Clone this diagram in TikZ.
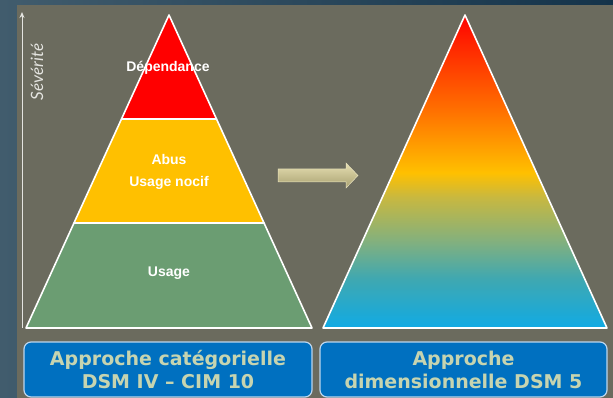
\documentclass[tikz,border=0pt]{standalone}
\usepackage{fontspec}
\setmainfont{Liberation Sans}
\newfontfamily\boxfont{DejaVu Sans}
\newfontfamily\sevfont{Lato}
\usetikzlibrary{calc,arrows.meta}

\definecolor{bgleft}{HTML}{415C6D}
\definecolor{bgright}{HTML}{14334A}
\definecolor{panel}{HTML}{6B6B5E}
\definecolor{bandred}{HTML}{FF0000}
\definecolor{bandyellow}{HTML}{FFC000}
\definecolor{bandgreen}{HTML}{6B9D72}
\definecolor{boxblue}{HTML}{0070C0}
\definecolor{boxedge}{HTML}{BCD6EE}
\definecolor{boxtext}{HTML}{C6D4B0}
\definecolor{arrowtop}{HTML}{E6DFB2}
\definecolor{arrowbot}{HTML}{A8A070}
\definecolor{sevgray}{HTML}{E4E4E0}

% continuous scale from blue (base) to red (apex)
\pgfdeclareverticalshading{severityscale}{100bp}{%
  color(0bp)=(rgb,255:red,16;green,170;blue,228);
  color(25bp)=(rgb,255:red,16;green,170;blue,228);
  color(33bp)=(rgb,255:red,64;green,168;blue,176);
  color(38.6bp)=(rgb,255:red,128;green,176;blue,128);
  color(45.9bp)=(rgb,255:red,200;green,184;blue,64);
  color(49.8bp)=(rgb,255:red,255;green,192;blue,0);
  color(59.8bp)=(rgb,255:red,255;green,112;blue,0);
  color(71bp)=(rgb,255:red,255;green,32;blue,0);
  color(75bp)=(rgb,255:red,255;green,0;blue,0);
  color(100bp)=(rgb,255:red,255;green,0;blue,0)}

\begin{document}
\begin{tikzpicture}[x=1pt,y=-1pt,
    band/.style={draw=white,line width=1.6pt,line join=round},
    lbl/.style={text=white,font=\fontsize{14}{22}\selectfont\bfseries,inner sep=0pt},
    capbox/.style={draw=boxedge,line width=1.2pt,fill=boxblue,rounded corners=7pt,
      minimum width=288pt,minimum height=55pt,inner sep=0pt,align=center,
      text=boxtext,font=\boxfont\bfseries\fontsize{19}{23}\selectfont}]
  \useasboundingbox (0,0) rectangle (613,398);

  % background and panel
  \fill[left color=bgleft,right color=bgright] (0,0) rectangle (613,398);
  \fill[panel] (17,5) rectangle (613,398);

  % severity axis
  \coordinate (sevbot) at (22,328);
  \coordinate (sevtop) at (22,12);
  \draw[sevgray,line width=1pt,-{Stealth[length=6pt,width=5pt]}] (sevbot) -- (sevtop);
  \node[rotate=90,text=sevgray,font=\sevfont\itshape\fontsize{17}{20}\selectfont,inner sep=0pt]
    (sev) at (37,72) {Sévérité};

  % categorical pyramid
  \coordinate (A) at (169,15);
  \coordinate (BL) at (26,328);
  \coordinate (BR) at (312,328);
  \coordinate (L1) at ($(A)!0.3323!(BL)$);
  \coordinate (R1) at ($(A)!0.3323!(BR)$);
  \coordinate (L2) at ($(A)!0.6645!(BL)$);
  \coordinate (R2) at ($(A)!0.6645!(BR)$);
  \filldraw[band,fill=bandgreen] (L2) -- (BL) -- (BR) -- (R2) -- cycle;
  \filldraw[band,fill=bandyellow] (L1) -- (L2) -- (R2) -- (R1) -- cycle;
  \filldraw[band,fill=bandred] (A) -- (L1) -- (R1) -- cycle;

  \node[lbl] (dep) at (168,68) {Dépendance};
  \node[lbl,align=center] (abus) at (169,172) {Abus\\Usage nocif};
  \node[lbl] (usage) at (169,273) {Usage};

  % transition arrow
  \fill[top color=arrowtop,bottom color=arrowbot,draw=arrowtop!80!white,line width=0.5pt]
    (278,169) -- (346,169) -- (346,163) -- (358,175.5) -- (346,188) -- (346,182)
    -- (278,182) -- cycle;

  % dimensional pyramid
  \coordinate (DA) at (465,15);
  \coordinate (DL) at (323,328);
  \coordinate (DR) at (607,328);
  \filldraw[band,shading=severityscale] (DA) -- (DL) -- (DR) -- cycle;

  % captions
  \node[capbox] (cat) at (168,369.5) {Approche catégorielle\\DSM IV – CIM 10};
  \node[capbox,minimum width=287pt] (dim) at (463.5,369.5) {Approche\\dimensionnelle DSM 5};
\end{tikzpicture}
\end{document}
